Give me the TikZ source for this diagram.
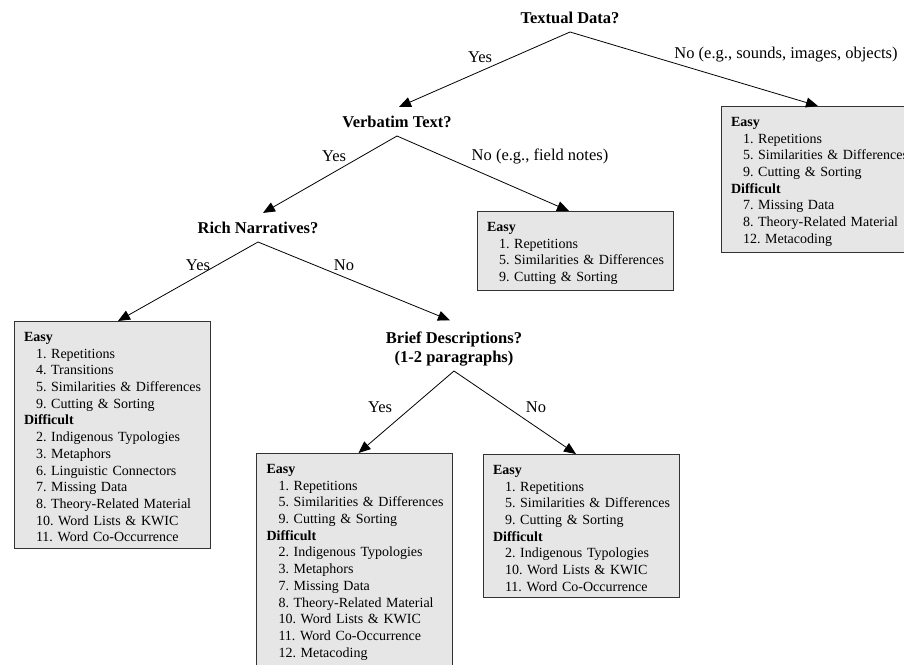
\documentclass[tikz,border=0pt]{standalone}
\usepackage{fontspec}
\setmainfont{Liberation Serif}
\usetikzlibrary{arrows.meta}
\definecolor{boxgray}{RGB}{230,230,230}
\frenchspacing
\newcommand{\itm}[1]{\hspace*{12pt}\mbox{#1}}
\newcommand{\basic}{\itm{1. Repetitions}\\\itm{5. Similarities \& Differences}\\\itm{9. Cutting \& Sorting}}

\begin{document}
\begin{tikzpicture}[x=1pt,y=-1pt,
  question/.style={font=\fontsize{16.5}{19}\selectfont\bfseries,anchor=south,align=center,inner xsep=0pt,inner ysep=8.5pt},
  lbl/.style={font=\fontsize{16.5}{19}\selectfont},
  codes/.style={draw=black!80,line width=0.8pt,fill=boxgray,anchor=north,text width=176pt,
    inner xsep=10pt,inner ysep=6pt,text height=14pt,align=left,font=\fontsize{14}{16.7}\selectfont\frenchspacing},
  branch/.style={line width=0.8pt,-{Triangle[length=12pt,width=10pt]}}]
\clip (0,0) rectangle (904,664);
\fill[white] (0,0) rectangle (904,664);
% questions
\node[question] (textual) at (570,32) {Textual Data?};
\node[question] (verbatim) at (397,136) {Verbatim Text?};
\node[question] (rich) at (258,242) {Rich Narratives?};
\node[question,inner ysep=4.5pt] (brief) at (454,371) {Brief Descriptions?\\(1-2 paragraphs)};
% coding boxes
\node[codes] (nontext) at (819,106) {\textbf{Easy}\\\basic\\\textbf{Difficult}\\
  \itm{7. Missing Data}\\\itm{8. Theory-Related Material}\\\itm{12. Metacoding}};
\node[codes] (fieldnotes) at (575,211) {\textbf{Easy}\\\basic};
\node[codes] (richbox) at (112,321) {\textbf{Easy}\\\itm{1. Repetitions}\\\itm{4. Transitions}\\
  \itm{5. Similarities \& Differences}\\\itm{9. Cutting \& Sorting}\\\textbf{Difficult}\\
  \itm{2. Indigenous Typologies}\\\itm{3. Metaphors}\\\itm{6. Linguistic Connectors}\\
  \itm{7. Missing Data}\\\itm{8. Theory-Related Material}\\\itm{10. Word Lists \& KWIC}\\
  \itm{11. Word Co-Occurrence}};
\node[codes] (briefbox) at (354.5,453) {\textbf{Easy}\\\basic\\\textbf{Difficult}\\
  \itm{2. Indigenous Typologies}\\\itm{3. Metaphors}\\\itm{7. Missing Data}\\
  \itm{8. Theory-Related Material}\\\itm{10. Word Lists \& KWIC}\\
  \itm{11. Word Co-Occurrence}\\\itm{12. Metacoding}};
\node[codes] (longbox) at (581,454) {\textbf{Easy}\\\basic\\\textbf{Difficult}\\
  \itm{2. Indigenous Typologies}\\\itm{10. Word Lists \& KWIC}\\\itm{11. Word Co-Occurrence}};
% branches
\draw[branch] (textual.south) -- ([xshift=2pt]verbatim.north);
\draw[branch] (textual.south) -- ([xshift=-1pt]nontext.north);
\draw[branch] (verbatim.south) -- ([xshift=5pt]rich.north);
\draw[branch] (verbatim.south) -- ([xshift=-6pt]fieldnotes.north);
\draw[branch] (rich.south) -- ([xshift=6pt]richbox.north);
\draw[branch] (rich.south) -- ([xshift=-4pt,yshift=7pt]brief.north);
\draw[branch] (brief.south) -- ([xshift=4pt]briefbox.north);
\draw[branch] (brief.south) -- ([xshift=-5pt]longbox.north);
% answers
\node[lbl] (yes1) at (480,57) {Yes};
\node[lbl] (no1) at (786,55) {No (e.g., sounds, images, objects)};
\node[lbl] (yes2) at (334,156) {Yes};
\node[lbl] (no2) at (540,156) {No (e.g., field notes)};
\node[lbl] (yes3) at (198,265) {Yes};
\node[lbl] (no3) at (344,265) {No};
\node[lbl] (yes4) at (380,407) {Yes};
\node[lbl] (no4) at (536,407) {No};
\end{tikzpicture}
\end{document}
